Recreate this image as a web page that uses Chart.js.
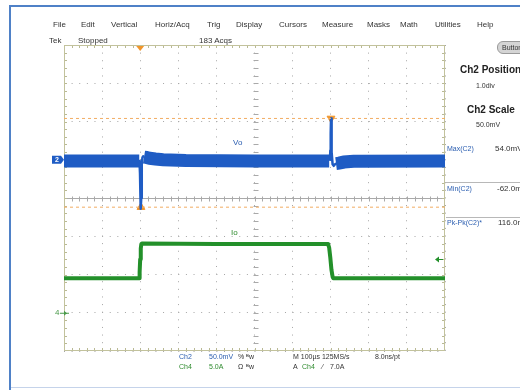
<!DOCTYPE html>
<html><head><meta charset="utf-8">
<script src="https://cdn.jsdelivr.net/npm/chart.js@4.4.1/dist/chart.umd.min.js"></script>
<style>
html,body{margin:0;padding:0;background:#fff;}
#wrap{position:relative;width:520px;height:390px;overflow:hidden;font-family:'Liberation Sans',Arial,sans-serif;font-size:8px;color:#333;}
#c{position:absolute;left:0;top:0;}
.t{position:absolute;white-space:nowrap;line-height:10px;}
.s{font-size:7px;}
.b{color:#2a5db0;}
.g{color:#2e8b2e;}
.bold{font-weight:bold;font-size:10px;color:#222;}
.hl{position:absolute;height:1px;background:#b8b8b8;left:446px;width:74px;}
</style></head><body>
<div id="wrap">
<canvas id="c" width="520" height="390"></canvas>
<div style="position:absolute;left:9px;top:5px;width:511px;height:2px;background:#4f81c7;"></div>
<div style="position:absolute;left:9px;top:5px;width:2px;height:385px;background:#4f81c7;"></div>
<div style="position:absolute;left:11px;top:387px;width:509px;height:1px;background:#c5d3ea;"></div>

<div class="t" style="left:53px;top:20px">File</div>
<div class="t" style="left:81px;top:20px">Edit</div>
<div class="t" style="left:111px;top:20px">Vertical</div>
<div class="t" style="left:155px;top:20px">Horiz/Acq</div>
<div class="t" style="left:207px;top:20px">Trig</div>
<div class="t" style="left:236px;top:20px">Display</div>
<div class="t" style="left:279px;top:20px">Cursors</div>
<div class="t" style="left:322px;top:20px">Measure</div>
<div class="t" style="left:367px;top:20px">Masks</div>
<div class="t" style="left:400px;top:20px">Math</div>
<div class="t" style="left:435px;top:20px">Utilities</div>
<div class="t" style="left:477px;top:20px">Help</div>

<div class="t" style="left:49px;top:36px">Tek</div>
<div class="t" style="left:78px;top:36px">Stopped</div>
<div class="t" style="left:199px;top:36px">183 Acqs</div>

<div class="t s" style="left:497px;top:41px;width:30px;height:11px;background:#d4d4d4;border:1px solid #9a9a9a;border-radius:6px;padding-left:4px;line-height:11px;">Button</div>
<div class="t bold" style="left:460px;top:65px">Ch2 Position</div>
<div class="t s" style="left:476px;top:81px">1.0div</div>
<div class="t bold" style="left:467px;top:105px">Ch2 Scale</div>
<div class="t s" style="left:476px;top:120px">50.0mV</div>
<div class="t b s" style="left:447px;top:144px">Max(C2)</div>
<div class="t" style="left:495px;top:144px">54.0mV</div>
<div class="hl" style="top:182px"></div>
<div class="t b s" style="left:447px;top:184px">Min(C2)</div>
<div class="t" style="left:497px;top:184px">-62.0mV</div>
<div class="hl" style="top:217px"></div>
<div class="t b s" style="left:447px;top:218px">Pk-Pk(C2)*</div>
<div class="t" style="left:498px;top:218px">116.0mV</div>

<div class="t b" style="left:233px;top:138px">Vo</div>
<div class="t g" style="left:231px;top:228px">Io</div>

<div class="t b s" style="left:179px;top:352px">Ch2</div>
<div class="t b s" style="left:209px;top:352px">50.0mV</div>
<div class="t s" style="left:238px;top:352px">%</div>
<div class="t s" style="left:246px;top:352px">ᴮw</div>
<div class="t s" style="left:293px;top:352px">M 100µs 125MS/s</div>
<div class="t s" style="left:375px;top:352px">8.0ns/pt</div>
<div class="t g s" style="left:179px;top:362px">Ch4</div>
<div class="t g s" style="left:209px;top:362px">5.0A</div>
<div class="t s" style="left:238px;top:362px">Ω</div>
<div class="t s" style="left:246px;top:362px">ᴮw</div>
<div class="t s" style="left:293px;top:362px">A</div>
<div class="t g s" style="left:302px;top:362px">Ch4</div>
<div class="t s" style="left:322px;top:362px">⁄</div>
<div class="t s" style="left:330px;top:362px">7.0A</div>
</div>
<script>
// Time axis (µs, trigger at 0): 100 µs/div
const timeRange = [-200, 800];
// Ch2 (Vo) scale in mV, 50 mV/div, position +1 div
const voRange = [-250, 150];
// Ch4 (Io) scale in A, 5 A/div, position -3 div
const ioRange = [-5, 35];

// Vo noisy band (drawn thick), gaps where the fast spikes are
const voBandTime = [-200, -60, -2.5, -2, 7, 10, 16, 25, 40, 60, 120, 300, 496, 497, 510, 514, 522, 535, 560, 800];
const voBandMv   = [-1.5, -1.5, -1.5, null, null, 3.5, 3, 2, 1, 0, -1, -1.5, -1.5, null, null, -5, -4.5, -3, -2, -1.5];

// Vo fast spikes (drawn thin)
const voSpikeTime = [-3, -1.5, -0.5, 0.5, 1.2, 2, 2.8, 3.6, 4.6, 6, 8, 10, 497, 498, 499, 500, 500.8, 501.8, 503, 505, 508, 511, 515];
const voSpikeMv   = [-1.5, -6, -18, -38, -55, -64, -50, -25, -5, 3, 4.5, 3.5, null, -1.5, 12, 34, 54, 36, 10, -6, -8, -6, -5];

// Io current step
const ioTime = [-200, -3, -1.5, 0, 1.5, 3, 4.5, 200, 493, 496, 499, 502, 505, 507, 800];
const ioAmps = [4.5, 4.5, 5.3, 7, 8.4, 9.0, 9.05, 9.0, 9.0, 8.5, 7.2, 5.6, 4.7, 4.5, 4.5];

// Measurement cursors (Max / Min of C2) and their markers
const cursorMv = [54, -62];
const cursorMarkTime = [500.8, 2];
const triggerTime = 0;
const triggerLevelA = 7.0;

const pts = (xs, ys) => xs.map((x, i) => ({x, y: ys[i]}));

const BLUE = '#1f5cc4', GREEN = '#23902a', ORANGE = '#f0952a';

const deco = {
  id: 'deco',
  beforeDatasetsDraw(chart) {
    const {ctx, chartArea: a} = chart;
    const L = a.left, R = a.right, T = a.top, B = a.bottom;
    const dx = (R - L) / 50, dy = (B - T) / 40;
    const cy = Math.round((T + B) / 2) + 0.5, cx = Math.round((L + R) / 2) + 0.5;
    ctx.save();
    ctx.lineWidth = 1;
    ctx.strokeStyle = '#a9a9a9';
    ctx.beginPath(); ctx.moveTo(L, cy); ctx.lineTo(R, cy); ctx.stroke();
    ctx.beginPath();
    for (let i = 1; i < 50; i++) {
      const x = Math.round(L + i * dx) + 0.5;
      ctx.moveTo(x, cy - 2); ctx.lineTo(x, cy + 3);
    }
    for (let j = 1; j < 40; j++) {
      const y = Math.round(T + j * dy) + 0.5;
      ctx.moveTo(cx - 2, y); ctx.lineTo(cx + 3, y);
    }
    ctx.stroke();
    ctx.strokeStyle = '#b9b994';
    ctx.beginPath();
    for (let i = 1; i < 50; i++) {
      const x = Math.round(L + i * dx) + 0.5;
      ctx.moveTo(x, T); ctx.lineTo(x, T + 3);
      ctx.moveTo(x, B); ctx.lineTo(x, B - 3);
    }
    for (let j = 1; j < 40; j++) {
      const y = Math.round(T + j * dy) + 0.5;
      ctx.moveTo(L, y); ctx.lineTo(L + 3, y);
      ctx.moveTo(R, y); ctx.lineTo(R - 3, y);
    }
    ctx.stroke();
    ctx.strokeStyle = '#c2c29c';
    ctx.strokeRect(Math.round(L) + 0.5, Math.round(T) + 0.5, Math.round(R - L) - 1, Math.round(B - T) - 1);
    ctx.restore();
  },
  afterDatasetsDraw(chart) {
    const {ctx, chartArea: a, scales} = chart;
    ctx.save();
    const tx = scales.x.getPixelForValue(triggerTime);
    ctx.fillStyle = ORANGE;
    ctx.beginPath(); ctx.moveTo(tx - 4, a.top + 1); ctx.lineTo(tx + 4, a.top + 1); ctx.lineTo(tx, a.top + 6); ctx.closePath(); ctx.fill();
    const y2 = scales.y.getPixelForValue(0);
    ctx.fillStyle = BLUE;
    ctx.beginPath(); ctx.moveTo(a.left - 12, y2 - 4); ctx.lineTo(a.left - 3, y2 - 4); ctx.lineTo(a.left, y2); ctx.lineTo(a.left - 3, y2 + 4); ctx.lineTo(a.left - 12, y2 + 4); ctx.closePath(); ctx.fill();
    ctx.fillStyle = '#fff'; ctx.font = 'bold 7px "Liberation Sans"'; ctx.textBaseline = 'middle';
    ctx.fillText('2', a.left - 9, y2 + 0.5);
    const y4 = scales.yI.getPixelForValue(0);
    ctx.fillStyle = '#4a9a4a'; ctx.font = '8px "Liberation Sans"';
    ctx.fillText('4', a.left - 9, y4);
    ctx.strokeStyle = '#4a9a4a'; ctx.lineWidth = 1;
    ctx.beginPath(); ctx.moveTo(a.left - 4, y4 + 0.5); ctx.lineTo(a.left + 5, y4 + 0.5); ctx.stroke();
    ctx.beginPath(); ctx.moveTo(a.left, y4 - 2); ctx.lineTo(a.left + 3, y4 + 0.5); ctx.lineTo(a.left, y4 + 3); ctx.closePath(); ctx.fill();
    const yt = Math.round(scales.yI.getPixelForValue(triggerLevelA)) + 0.5;
    ctx.fillStyle = GREEN; ctx.strokeStyle = GREEN;
    ctx.beginPath(); ctx.moveTo(a.right - 9, yt); ctx.lineTo(a.right - 2, yt); ctx.stroke();
    ctx.beginPath(); ctx.moveTo(a.right - 10, yt); ctx.lineTo(a.right - 6, yt - 3); ctx.lineTo(a.right - 6, yt + 3); ctx.closePath(); ctx.fill();
    ctx.restore();
  }
};

new Chart(document.getElementById('c'), {
  type: 'line',
  data: {
    datasets: [
      { data: pts(timeRange, [cursorMv[0], cursorMv[0]]), borderColor: '#f2ad62', borderWidth: 1, borderDash: [3, 3], pointRadius: 0, yAxisID: 'y' },
      { data: pts(timeRange, [cursorMv[1], cursorMv[1]]), borderColor: '#f2ad62', borderWidth: 1, borderDash: [3, 3], pointRadius: 0, yAxisID: 'y' },
      { data: pts(ioTime, ioAmps), borderColor: GREEN, borderWidth: 4, pointRadius: 0, tension: 0, yAxisID: 'yI', borderJoinStyle: 'round' },
      { data: pts(voBandTime, voBandMv), borderColor: BLUE, borderWidth: 13, borderCapStyle: 'butt', pointRadius: 0, tension: 0, spanGaps: false, yAxisID: 'y' },
      { data: pts(voSpikeTime, voSpikeMv), borderColor: BLUE, borderWidth: 2.5, pointRadius: 0, tension: 0, spanGaps: false, yAxisID: 'y', borderJoinStyle: 'round' },
      { data: [{x: cursorMarkTime[0], y: cursorMv[0]}], showLine: false, pointStyle: 'triangle', rotation: 180, pointRadius: 4.5, backgroundColor: ORANGE, borderColor: ORANGE, yAxisID: 'y', clip: false },
      { data: [{x: cursorMarkTime[1], y: cursorMv[1]}], showLine: false, pointStyle: 'triangle', rotation: 0, pointRadius: 4.5, backgroundColor: ORANGE, borderColor: ORANGE, yAxisID: 'y', clip: false }
    ]
  },
  options: {
    responsive: false,
    animation: false,
    layout: { padding: { left: 64, top: 45, right: 75, bottom: 39 } },
    plugins: { legend: { display: false }, tooltip: { enabled: false } },
    scales: {
      x: { type: 'linear', min: timeRange[0], max: timeRange[1],
           ticks: { display: false, stepSize: 100 },
           grid: { color: '#a6a6a6', lineWidth: 1, drawTicks: false, tickLength: 0 },
           border: { display: false, dash: [1, 6.62] } },
      y: { min: voRange[0], max: voRange[1],
           ticks: { display: false, stepSize: 50 },
           grid: { color: '#a6a6a6', lineWidth: 1, drawTicks: false, tickLength: 0 },
           border: { display: false, dash: [1, 6.62] } },
      yI: { display: false, min: ioRange[0], max: ioRange[1] }
    }
  },
  plugins: [deco]
});
</script>
</body></html>
